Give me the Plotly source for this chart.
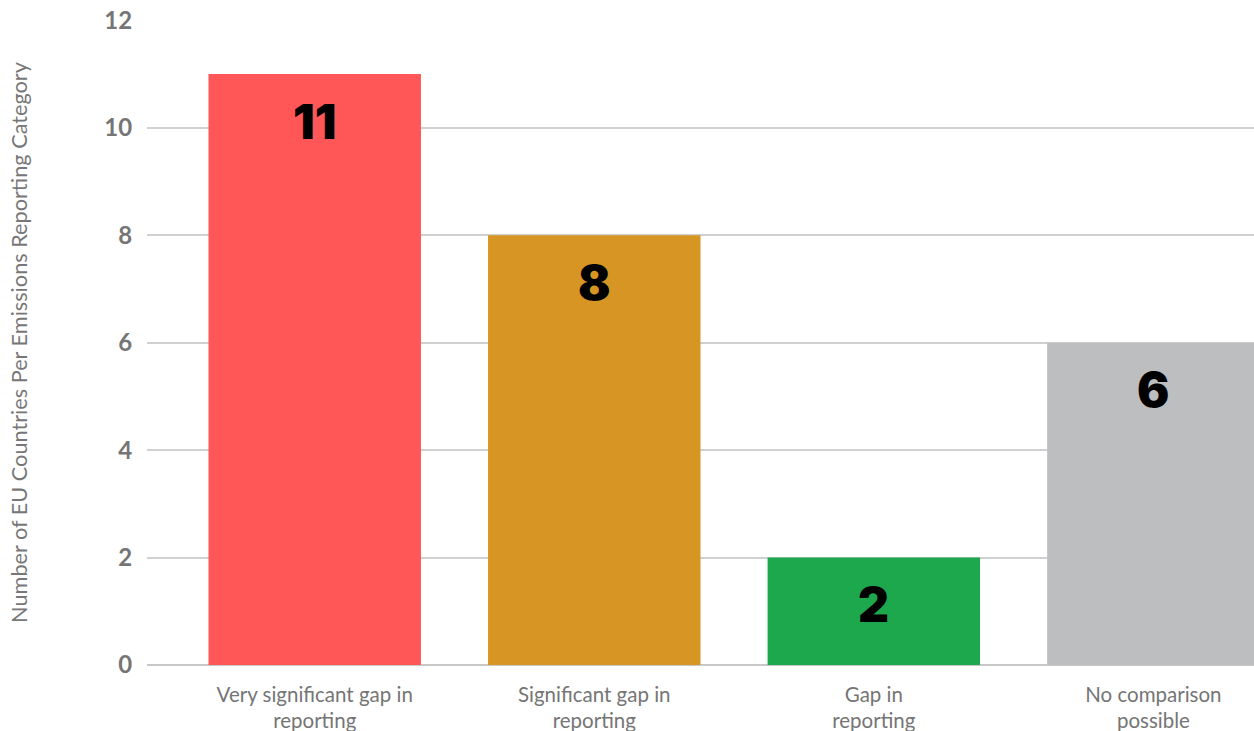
import plotly.graph_objects as go

categories = ["Very significant gap in<br>reporting", "Significant gap in<br>reporting",
              "Gap in<br>reporting", "No comparison<br>possible"]
values = [11, 8, 2, 6]
colors = ["#FF5757", "#D79623", "#1DA84D", "#BDBEC0"]
y_ticks = [0, 2, 4, 6, 8, 10, 12]
y_title = "Number of EU Countries Per Emissions Reporting Category"

fig = go.Figure()
fig.add_trace(go.Bar(x=list(range(len(categories))), y=values, marker=dict(color=colors, line=dict(width=0)),
                     hoverinfo="skip"))

for i, v in enumerate(values):
    fig.add_annotation(x=i, y=v, text=str(v), showarrow=False, yanchor="middle", yshift=-47,
                       font=dict(family="Inter", size=48, color="#000000", weight=900))

fig.update_layout(
    width=1254, height=731,
    margin=dict(l=147, r=0, t=20, b=66),
    paper_bgcolor="white", plot_bgcolor="white",
    bargap=0.24, showlegend=False,
    font=dict(family="Lato", color="#757575"),
)
fig.update_xaxes(
    tickmode="array", tickvals=list(range(len(categories))), ticktext=categories,
    range=[-0.6, 3.36], showgrid=False, zeroline=False, showline=False,
    ticks="outside", ticklen=11, tickcolor="rgba(0,0,0,0)",
    tickfont=dict(family="Lato", size=20.5, color="#757575"),
    automargin=False,
)
fig.update_yaxes(
    range=[0, 12.006], tickmode="array", tickvals=y_ticks,
    showgrid=True, gridcolor="#D0D0D0", gridwidth=1.5,
    zeroline=True, zerolinecolor="#C8C8C8", zerolinewidth=2,
    ticks="outside", ticklen=9, tickcolor="rgba(0,0,0,0)",
    tickfont=dict(family="Lato", size=24, color="#757575", weight="bold"),
    title=dict(text=y_title, font=dict(family="Lato", size=21.7, color="#777777"), standoff=70),
    automargin=False,
)

fig.write_html("out.html", config={"displayModeBar": False},
               post_script="document.body.style.margin='0';document.body.style.overflow='hidden';")
